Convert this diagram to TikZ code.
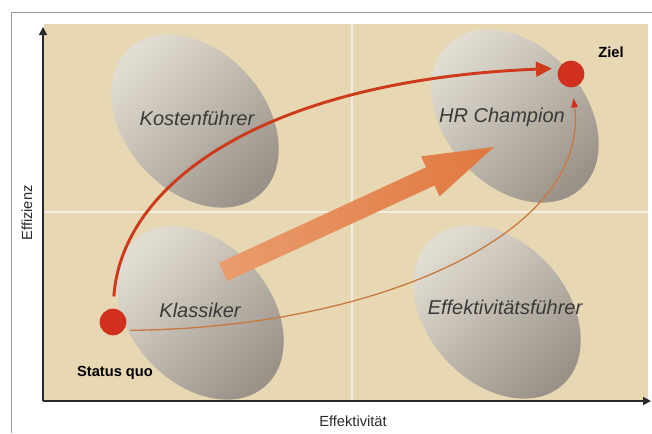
\documentclass[tikz,border=0pt]{standalone}
\usepackage{fontspec}
\setmainfont{Liberation Sans}
\usetikzlibrary{arrows.meta}
\definecolor{bgc}{HTML}{E7D7B3}
\definecolor{framec}{HTML}{9A9A9A}
\definecolor{axisc}{HTML}{2A2A2A}
\definecolor{divc}{HTML}{F3EEE2}
\definecolor{egglight}{HTML}{E2DDD2}
\definecolor{eggdark}{HTML}{9A9288}
\definecolor{dotc}{HTML}{D2301E}
\definecolor{redc}{HTML}{CE3A1C}
\definecolor{thinc}{HTML}{C97A42}
\definecolor{fattail}{HTML}{EA9C6E}
\definecolor{fathead}{HTML}{E07840}
\definecolor{labc}{HTML}{3A3A3A}
\begin{document}
\begin{tikzpicture}[x=0.75pt,y=-0.75pt,
  egg/.style={top color=egglight, bottom color=eggdark, shading angle=45},
  dotnode/.style={circle, fill=dotc, inner sep=0pt, minimum size=20pt},
  lab/.style={font=\itshape\fontsize{15}{18}\selectfont, text=labc},
  boldlab/.style={font=\bfseries\fontsize{11}{13}\selectfont, text=black},
  axlab/.style={font=\fontsize{11}{13}\selectfont, text=axisc},
  redarrow/.style={draw=redc, line width=2.2pt, -{Triangle[length=12pt,width=11pt]}, shorten <=9pt, shorten >=5pt},
  thinarrow/.style={draw=thinc, line width=1pt, -{Triangle[length=7pt,width=5pt,color=dotc,fill=dotc]}, shorten <=5pt, shorten >=8pt},
  divider/.style={draw=divc, line width=1.5pt},
  axis/.style={draw=axisc, line width=1.1pt, -{Triangle[length=6pt,width=6pt]}}
]
\useasboundingbox (0,0) rectangle (652,433);
\fill[white] (0,0) rectangle (652,433);
% outer frame
\draw[framec, line width=0.6pt] (11,433) -- (11,12) -- (652,12);
% plot area
\fill[bgc] (44,24) rectangle (648,401);
\draw[divider] (352,24) -- (352,401);
\draw[divider] (44,212) -- (648,212);
% ellipses
\begin{scope}[shift={(195,121)}, rotate=-48]
  \shade[egg] (0,0) ellipse [x radius=98, y radius=70];
\end{scope}
\begin{scope}[shift={(515,116)}, rotate=-48]
  \shade[egg] (0,0) ellipse [x radius=98, y radius=70];
\end{scope}
\begin{scope}[shift={(200,313)}, rotate=-48]
  \shade[egg] (0,0) ellipse [x radius=98, y radius=70];
\end{scope}
\begin{scope}[shift={(497,312)}, rotate=-48]
  \shade[egg] (0,0) ellipse [x radius=98, y radius=70];
\end{scope}
% axes
\coordinate (orig) at (43,401);
\coordinate (ytop) at (43,27);
\coordinate (xend) at (651,401);
\draw[axis] (orig) -- (ytop);
\draw[axis] (orig) -- (xend);
% labels
\node[lab] (kf) at (197,118) {Kostenführer};
\node[lab] (hr) at (502,117) {HR Champion};
\node[lab] (kl) at (200,310) {Klassiker};
\node[lab] (ef) at (505,307) {Effektivitätsführer};
% fat arrow
\shade[left color=fattail, right color=fathead]
  (218.8,262.9) -- (426.1,167.3) -- (421.1,156.4) -- (494,147)
  -- (439.5,196.4) -- (434.5,185.5) -- (227.2,281.1) -- cycle;
% dots
\node[dotnode] (sq) at (113,322) {};
\node[dotnode] (ziel) at (571,74) {};
\node[boldlab] (sqlab) at (115,373) {Status quo};
\node[boldlab] (ziellab) at (611,52) {Ziel};
% arrows
\draw[redarrow] (sq.north) .. controls (122,180) and (270,80) .. (ziel.155);
\draw[thinarrow] (sq.-38) .. controls (380,328) and (590,232) .. (ziel.-85);
% axis labels
\node[axlab, rotate=90] (ylab) at (27,213) {Effizienz};
\node[axlab] (xlab) at (353,421) {Effektivität};
\end{tikzpicture}
\end{document}
